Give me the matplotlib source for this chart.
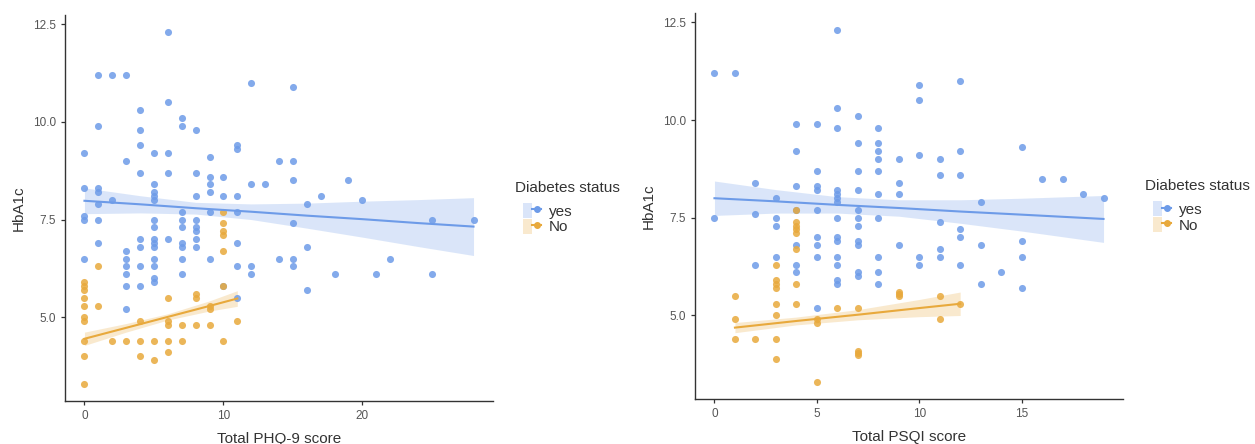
import numpy as np
import matplotlib
matplotlib.use("Agg")
import matplotlib.pyplot as plt
from matplotlib.lines import Line2D
from matplotlib.patches import Patch
from matplotlib.legend_handler import HandlerTuple

plt.rcParams['font.family'] = ['Liberation Sans', 'DejaVu Sans']

BLUE = '#6D9BE8'
ORANGE = '#E8A93C'

# ---- PHQ-9 panel: (score, HbA1c) ----
phq_yes_x = [0, 0, 0, 0, 0,
             1, 1, 1, 1, 1, 1, 1,
             2, 2,
             3, 3, 3, 3, 3, 3, 3, 3,
             4, 4, 4, 4, 4, 4, 4, 4,
             5, 5, 5, 5, 5, 5, 5, 5, 5, 5, 5, 5, 5, 5,
             6, 6, 6, 6, 6,
             7, 7, 7, 7, 7, 7, 7, 7, 7,
             8, 8, 8, 8, 8, 8, 8, 8,
             9, 9, 9, 9, 9, 9,
             10, 10, 10,
             11, 11, 11, 11, 11, 11, 11,
             12, 12, 12, 12,
             13,
             14, 14,
             15, 15, 15, 15, 15, 15,
             16, 16, 16,
             17, 18, 19, 20, 21, 22,
             25, 25,
             28]
phq_yes_y = [9.2, 8.3, 7.6, 7.5, 6.5,
             11.2, 9.9, 8.3, 8.2, 7.9, 7.5, 6.9,
             11.2, 8.0,
             11.2, 9.0, 6.7, 6.5, 6.3, 6.1, 5.8, 5.2,
             10.3, 9.8, 9.4, 8.7, 7.0, 6.8, 6.3, 5.8,
             9.2, 8.4, 8.2, 8.1, 8.0, 7.5, 7.3, 7.0, 6.9, 6.8, 6.5, 6.3, 6.0, 5.9,
             12.3, 10.5, 9.2, 8.7, 7.0,
             10.1, 9.9, 7.7, 7.5, 7.3, 6.9, 6.8, 6.5, 6.1,
             9.8, 8.7, 8.1, 7.5, 7.3, 7.2, 7.0, 6.8,
             9.1, 8.6, 8.4, 8.2, 7.7, 6.5,
             8.6, 8.1, 5.8,
             9.4, 9.3, 8.1, 7.7, 6.9, 6.3, 5.5,
             11.0, 8.4, 6.3, 6.1,
             8.4,
             9.0, 6.5,
             10.9, 9.0, 8.5, 7.4, 6.5, 6.3,
             7.9, 6.8, 5.7,
             8.1, 6.1, 8.5, 8.0, 6.1, 6.5,
             7.5, 6.1,
             7.5]

phq_no_x = [0, 0, 0, 0, 0, 0, 0, 0, 0, 0,
            1, 1, 2, 3,
            4, 4, 4,
            5, 5,
            6, 6, 6, 6, 6,
            7, 7,
            8, 8, 8,
            9, 9, 9,
            10, 10, 10, 10, 10, 10, 10,
            11]
phq_no_y = [5.9, 5.8, 5.7, 5.5, 5.3, 5.0, 4.9, 4.4, 4.0, 3.3,
            6.3, 5.3, 4.4, 4.4,
            4.9, 4.4, 4.0,
            4.4, 3.9,
            5.5, 4.9, 4.8, 4.4, 4.1,
            4.8, 4.4,
            5.6, 5.5, 4.8,
            5.3, 5.2, 4.8,
            7.7, 7.4, 7.2, 7.1, 6.7, 5.8, 4.4,
            4.9]

# fitted lines and 95% bands (x, fit, half-width)
phq_yes_fit_x = [0, 4, 8, 12, 16, 20, 24, 28]
phq_yes_fit_y = [7.98, 7.89, 7.79, 7.70, 7.60, 7.51, 7.41, 7.32]
phq_yes_fit_w = [0.33, 0.22, 0.15, 0.20, 0.32, 0.46, 0.60, 0.74]

phq_no_fit_x = [0, 3, 6, 9, 11]
phq_no_fit_y = [4.45, 4.73, 5.01, 5.29, 5.48]
phq_no_fit_w = [0.17, 0.11, 0.08, 0.13, 0.20]

# ---- PSQI panel: (score, HbA1c) ----
psqi_yes_x = [0, 0, 1,
              2, 2, 2,
              3, 3, 3, 3,
              4, 4, 4, 4, 4, 4, 4,
              5, 5, 5, 5, 5, 5, 5, 5, 5,
              6, 6, 6, 6, 6, 6, 6, 6, 6, 6, 6, 6, 6, 6,
              7, 7, 7, 7, 7, 7, 7, 7, 7, 7, 7,
              8, 8, 8, 8, 8, 8, 8, 8, 8, 8,
              9, 9, 9, 9,
              10, 10, 10, 10, 10,
              11, 11, 11, 11, 11,
              12, 12, 12, 12, 12, 12,
              13, 13, 13,
              14,
              15, 15, 15, 15,
              16, 17, 18, 19]
psqi_yes_y = [11.2, 7.5, 11.2,
              8.4, 7.6, 6.3,
              8.0, 7.5, 7.3, 6.5,
              9.9, 9.2, 8.3, 7.7, 6.8, 6.3, 6.1,
              9.9, 8.7, 8.3, 8.2, 7.7, 7.0, 6.8, 6.5, 5.2,
              12.3, 10.3, 9.8, 8.2, 8.1, 8.0, 7.9, 7.5, 7.0, 6.9, 6.5, 6.3, 5.9, 5.8,
              10.1, 9.4, 8.7, 8.2, 7.7, 7.5, 7.3, 6.9, 6.8, 6.1, 6.0,
              9.8, 9.4, 9.2, 9.0, 8.7, 8.1, 7.5, 6.5, 6.1, 5.8,
              9.0, 8.4, 8.1, 6.8,
              10.9, 10.5, 9.1, 6.5, 6.3,
              9.0, 8.6, 7.4, 6.7, 6.5,
              11.0, 9.2, 8.6, 7.2, 7.0, 6.3,
              7.9, 6.8, 5.8,
              6.1,
              9.3, 6.9, 6.5, 5.7,
              8.5, 8.5, 8.1, 8.0]

psqi_no_x = [1, 1, 1, 2,
             3, 3, 3, 3, 3, 3, 3, 3,
             4, 4, 4, 4, 4, 4, 4, 4,
             5, 5, 5, 6,
             7, 7, 7, 7,
             9, 9, 9,
             11, 11, 12]
psqi_no_y = [5.5, 4.9, 4.4, 4.4,
             6.3, 5.9, 5.8, 5.7, 5.3, 5.0, 4.4, 3.9,
             7.7, 7.4, 7.3, 7.2, 7.1, 6.7, 5.8, 5.3,
             4.9, 4.8, 3.3, 5.2,
             5.2, 4.1, 4.05, 4.0,
             5.6, 5.55, 5.5,
             5.5, 4.9, 5.3]

psqi_yes_fit_x = [0, 3, 6, 9, 12, 15, 19]
psqi_yes_fit_y = [8.00, 7.92, 7.83, 7.75, 7.66, 7.58, 7.47]
psqi_yes_fit_w = [0.44, 0.30, 0.21, 0.21, 0.30, 0.42, 0.60]

psqi_no_fit_x = [1, 4, 7, 10, 12]
psqi_no_fit_y = [4.69, 4.86, 5.02, 5.19, 5.30]
psqi_no_fit_w = [0.13, 0.10, 0.13, 0.22, 0.30]


def smooth(ax, fx, fy, fw, color):
    fx, fy, fw = np.asarray(fx), np.asarray(fy), np.asarray(fw)
    ax.fill_between(fx, fy - fw, fy + fw, color=color, alpha=0.25,
                    linewidth=0, zorder=1)
    ax.plot(fx, fy, color=color, linewidth=1.5, zorder=3)


def panel(ax, xy_yes, xy_no, fit_yes, fit_no, xlabel, xticks):
    ax.scatter(*xy_yes, s=26, color=BLUE, alpha=0.85, linewidths=0, zorder=2)
    ax.scatter(*xy_no, s=26, color=ORANGE, alpha=0.85, linewidths=0, zorder=2)
    smooth(ax, *fit_yes, BLUE)
    smooth(ax, *fit_no, ORANGE)
    ax.set_yticks([5.0, 7.5, 10.0, 12.5])
    ax.set_yticklabels(['5.0', '7.5', '10.0', '12.5'])
    ax.set_xticks(xticks)
    ax.set_ylim(2.86, 12.73)
    for side in ['top', 'right']:
        ax.spines[side].set_visible(False)
    for side in ['left', 'bottom']:
        ax.spines[side].set_color('#333333')
        ax.spines[side].set_linewidth(1.0)
    ax.tick_params(colors='#333333', labelcolor='#555555', labelsize=8.5,
                   length=3, width=0.9)
    ax.set_xlabel(xlabel, fontsize=11, color='#333333', labelpad=7)
    ax.set_ylabel('HbA1c', fontsize=11, color='#333333', labelpad=5)

    h_yes = (Patch(facecolor=BLUE, alpha=0.25, linewidth=0),
             Line2D([], [], color=BLUE, marker='o', markersize=4, linewidth=1.5))
    h_no = (Patch(facecolor=ORANGE, alpha=0.25, linewidth=0),
            Line2D([], [], color=ORANGE, marker='o', markersize=4, linewidth=1.5))
    ax.text(1.052, 0.553, 'Diabetes status', transform=ax.transAxes,
            fontsize=11, color='#333333', ha='left', va='center')
    leg = ax.legend([h_yes, h_no], ['yes', 'No'],
                    handler_map={tuple: HandlerTuple(ndivide=None, pad=0)},
                    loc='upper left', bbox_to_anchor=(1.052, 0.533), frameon=False,
                    fontsize=11, handlelength=1.2, handleheight=1.15,
                    labelspacing=0.0, handletextpad=0.5, borderpad=0)
    for t in leg.get_texts():
        t.set_color('#333333')


fig = plt.figure(figsize=(12.55, 4.44), dpi=100)
ax1 = fig.add_axes([0.0518, 0.097, 0.341, 0.869])
ax2 = fig.add_axes([0.5538, 0.101, 0.341, 0.869])

panel(ax1, (phq_yes_x, phq_yes_y), (phq_no_x, phq_no_y),
      (phq_yes_fit_x, phq_yes_fit_y, phq_yes_fit_w),
      (phq_no_fit_x, phq_no_fit_y, phq_no_fit_w),
      'Total PHQ-9 score', [0, 10, 20])
ax1.set_xlim(-1.4, 29.4)
panel(ax2, (psqi_yes_x, psqi_yes_y), (psqi_no_x, psqi_no_y),
      (psqi_yes_fit_x, psqi_yes_fit_y, psqi_yes_fit_w),
      (psqi_no_fit_x, psqi_no_fit_y, psqi_no_fit_w),
      'Total PSQI score', [0, 5, 10, 15])
ax2.set_xlim(-0.95, 19.95)

fig.savefig('out.png', dpi=100)
